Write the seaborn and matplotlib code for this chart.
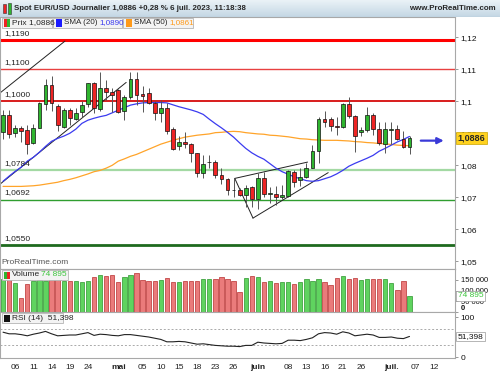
import numpy as np
import pandas as pd
import matplotlib
matplotlib.use("Agg")
import matplotlib.pyplot as plt
import matplotlib.transforms as mtransforms
from matplotlib.patches import Rectangle
import seaborn as sns

# ---- données (EUR/USD journalier) ----
opens = [1.0904, 1.0956, 1.0902, 1.0918, 1.0909, 1.0870, 1.0915, 1.0993, 1.1050, 1.0984,
         1.0920, 1.0974, 1.0946, 1.0967, 1.0991, 1.1056, 1.0977, 1.1043, 1.1030, 1.1035,
         1.0969, 1.1013, 1.1069, 1.1024, 1.1027, 1.0995, 1.0964, 1.0979, 1.0912, 1.0860,
         1.0874, 1.0865, 1.0837, 1.0775, 1.0809, 1.0811, 1.0770, 1.0756, 1.0723, 1.0723,
         1.0707, 1.0733, 1.0694, 1.0759, 1.0711, 1.0710, 1.0700, 1.0703, 1.0780, 1.0754,
         1.0763, 1.0791, 1.0845, 1.0944, 1.0944, 1.0923, 1.0920, 1.0993, 1.0954, 1.0905,
         1.0910, 1.0957, 1.0912, 1.0868, 1.0911, 1.0912, 1.0882, 1.0856]
highs = [1.0972, 1.0972, 1.0925, 1.0922, 1.0925, 1.0930, 1.0998, 1.1071, 1.1079, 1.0993,
         1.0979, 1.0979, 1.0979, 1.1001, 1.1058, 1.1061, 1.1092, 1.1065, 1.1041, 1.1038,
         1.1019, 1.1092, 1.1092, 1.1048, 1.1041, 1.1000, 1.1005, 1.0995, 1.0920, 1.0891,
         1.0904, 1.0869, 1.0839, 1.0832, 1.0832, 1.0818, 1.0791, 1.0759, 1.0759, 1.0730,
         1.0738, 1.0735, 1.0775, 1.0780, 1.0733, 1.0735, 1.0738, 1.0785, 1.0785, 1.0791,
         1.0806, 1.0863, 1.0952, 1.0971, 1.0950, 1.0950, 1.0995, 1.1012, 1.0957, 1.0920,
         1.0983, 1.0962, 1.0936, 1.0936, 1.0936, 1.0926, 1.0908, 1.0892]
lows = [1.0881, 1.0884, 1.0887, 1.0873, 1.0834, 1.0867, 1.0915, 1.0972, 1.0970, 1.0906,
        1.0917, 1.0925, 1.0941, 1.0951, 1.0982, 1.0964, 1.0970, 1.1003, 1.0966, 1.0962,
        1.0941, 1.1006, 1.0988, 1.0966, 1.0991, 1.0940, 1.0936, 1.0899, 1.0848, 1.0848,
        1.0854, 1.0811, 1.0762, 1.0759, 1.0791, 1.0759, 1.0742, 1.0707, 1.0702, 1.0704,
        1.0671, 1.0671, 1.0663, 1.0702, 1.0681, 1.0676, 1.0694, 1.0702, 1.0733, 1.0735,
        1.0759, 1.0791, 1.0806, 1.0920, 1.0907, 1.0895, 1.0915, 1.0947, 1.0843, 1.0892,
        1.0905, 1.0895, 1.0863, 1.0838, 1.0868, 1.0879, 1.0853, 1.0835]
closes = [1.0956, 1.0899, 1.0918, 1.0906, 1.0867, 1.0915, 1.0995, 1.1050, 1.0995, 1.0925,
          1.0974, 1.0948, 1.0964, 1.0988, 1.1056, 1.0978, 1.1042, 1.1030, 1.1020, 1.0967,
          1.1012, 1.1069, 1.1021, 1.1018, 1.0995, 1.0964, 1.0979, 1.0908, 1.0850, 1.0872,
          1.0867, 1.0837, 1.0775, 1.0803, 1.0811, 1.0770, 1.0756, 1.0723, 1.0722, 1.0707,
          1.0730, 1.0694, 1.0759, 1.0710, 1.0712, 1.0700, 1.0707, 1.0782, 1.0749, 1.0763,
          1.0793, 1.0846, 1.0944, 1.0936, 1.0924, 1.0919, 1.0991, 1.0955, 1.0892, 1.0910,
          1.0957, 1.0913, 1.0870, 1.0912, 1.0912, 1.0882, 1.0856, 1.0886]
volumes = [152, 152, 133, 64, 130, 143, 149, 146, 152, 152,
           146, 146, 146, 138, 146, 161, 171, 167, 172, 140,
           161, 172, 180, 149, 146, 146, 149, 157, 140, 138,
           144, 146, 146, 152, 153, 152, 161, 152, 146, 92,
           158, 169, 161, 140, 146, 133, 140, 138, 128, 140,
           152, 144, 152, 138, 125, 157, 167, 153, 157, 147,
           153, 153, 153, 152, 133, 102, 146, 74.895]
sma20 = [1.0750, 1.0766, 1.0781, 1.0794, 1.0813, 1.0825, 1.0841, 1.0859, 1.0875, 1.0884,
         1.0891, 1.0900, 1.0913, 1.0931, 1.0941, 1.0947, 1.0952, 1.0956, 1.0964, 1.0972,
         1.0980, 1.0988, 1.0992, 1.0995, 1.0996, 1.0996, 1.0996, 1.0995, 1.0989, 1.0983,
         1.0978, 1.0973, 1.0967, 1.0959, 1.0944, 1.0930, 1.0917, 1.0903, 1.0888, 1.0870,
         1.0853, 1.0839, 1.0828, 1.0819, 1.0805, 1.0791, 1.0780, 1.0772, 1.0764, 1.0758,
         1.0752, 1.0750, 1.0752, 1.0758, 1.0764, 1.0773, 1.0784, 1.0797, 1.0806, 1.0814,
         1.0822, 1.0831, 1.0844, 1.0853, 1.0863, 1.0873, 1.0881, 1.0890]
sma50 = [1.0734, 1.0734, 1.0734, 1.0734, 1.0735, 1.0736, 1.0738, 1.0741, 1.0744, 1.0747,
         1.0752, 1.0756, 1.0761, 1.0767, 1.0773, 1.0780, 1.0784, 1.0791, 1.0800, 1.0813,
         1.0820, 1.0828, 1.0834, 1.0842, 1.0850, 1.0858, 1.0866, 1.0872, 1.0878, 1.0883,
         1.0888, 1.0891, 1.0894, 1.0896, 1.0898, 1.0902, 1.0903, 1.0905, 1.0906, 1.0905,
         1.0902, 1.0900, 1.0898, 1.0897, 1.0894, 1.0893, 1.0891, 1.0889, 1.0886, 1.0883,
         1.0882, 1.0880, 1.0879, 1.0878, 1.0878, 1.0878, 1.0877, 1.0876, 1.0874, 1.0873,
         1.0871, 1.0870, 1.0868, 1.0867, 1.0865, 1.0863, 1.0862, 1.0861]
rsi14 = [62, 58, 58, 56, 53, 57, 60, 64, 58, 53,
         54, 55, 55, 58, 61, 54, 57, 56, 54, 53,
         56, 56, 54, 52, 50, 47, 44, 38, 38, 39,
         38, 35, 32, 33, 31, 29, 28, 27, 27, 26,
         29, 29, 37, 35, 34, 33, 34, 42, 42, 41,
         44, 48, 58, 61, 60, 57, 63, 60, 53, 55,
         57, 55, 49, 49, 50, 47, 46, 51.398]

dates = pd.bdate_range("2023-04-04", "2023-07-06")
axis_days = pd.bdate_range("2023-04-04", "2023-07-14")
tick_dates = ["2023-04-06", "2023-04-11", "2023-04-14", "2023-04-19", "2023-04-24",
              "2023-05-01", "2023-05-05", "2023-05-10", "2023-05-15", "2023-05-18",
              "2023-05-23", "2023-05-26", "2023-06-01", "2023-06-08", "2023-06-13",
              "2023-06-16", "2023-06-21", "2023-06-26", "2023-07-03", "2023-07-07",
              "2023-07-12"]
tick_labels = ["06", "11", "14", "19", "24", "mai", "05", "10", "15", "18", "23", "26",
               "juin", "08", "13", "16", "21", "26", "juil.", "07", "12"]

# niveaux horizontaux tracés sur le graphique
levels = [1.1190, 1.1100, 1.1000, 1.0784, 1.0692, 1.0550]
level_labels = ["1,1190", "1,1100", "1,1000", "1,0784", "1,0692", "1,0550"]
level_colors = ["#ff0000", "#e84040", "#d81c1c", "#a3d9a3", "#2f9e2f", "#1e6a1e"]
level_widths = [2.2, 1.0, 1.4, 1.6, 1.0, 2.0]

# lignes de tendance (indice de séance, prix)
trend_lines = [
    ([-0.5, 10.2], [1.1026, 1.1188]),
    ([-0.5, 20.3], [1.0741, 1.1059]),
    ([38.2, 50.2], [1.0759, 1.0810]),
    ([38.2, 41.2], [1.0759, 1.0635]),
    ([41.2, 53.6], [1.0635, 1.0777]),
]

price_ticks = [1.05, 1.06, 1.07, 1.08, 1.09, 1.10, 1.11, 1.12]
price_tick_labels = ["1,05", "1,06", "1,07", "1,08", "1,09", "1,1", "1,11", "1,12"]
vol_ticks = [0, 50000, 100000, 150000]
vol_tick_labels = ["0", "50 000", "100 000", "150 000"]

W, H = 500, 375


def fx(px):
    return px / W


def fy(py):
    return 1 - py / H


sns.set_style("white")
plt.rcParams["font.family"] = ["Liberation Sans Narrow", "Liberation Sans", "DejaVu Sans"]

fig = plt.figure(figsize=(5, 3.75), dpi=100)
fig.patch.set_facecolor("white")

x_right = 455
axp = fig.add_axes([0, fy(269), fx(x_right), (269 - 17) / H])
axv = fig.add_axes([0, fy(312), fx(x_right), (312 - 269) / H], sharex=axp)
axr = fig.add_axes([0, fy(358), fx(x_right), (358 - 312) / H], sharex=axp)

n = len(closes)
x = np.arange(n)
o = np.array(opens)
c = np.array(closes)
up = c >= o

# ---- prix ----
for lvl, col, lw, lab in zip(levels, level_colors, level_widths, level_labels):
    axp.axhline(lvl, color=col, lw=lw, zorder=1)
    axp.annotate(lab, (0, lvl), xycoords=("axes fraction", "data"),
                 xytext=(3, 2.5), textcoords="offset points", fontsize=6,
                 color="#222222", va="bottom", ha="left")

for tx, ty in trend_lines:
    axp.plot(tx, ty, color="#222222", lw=0.7, zorder=2)

sns.lineplot(x=x, y=sma50, color="#ffa42a", lw=0.9, ax=axp, zorder=2)
sns.lineplot(x=x, y=sma20, color="#3b3bf0", lw=0.9, ax=axp, zorder=2)

axp.vlines(x, lows, highs, color="#555555", lw=0.7, zorder=3)
body_bottom = np.minimum(o, c)
body_h = np.maximum(np.abs(c - o), 0.00003)
candle_cols = np.where(up, "#2fb52f", "#ee2424")
axp.bar(x, body_h, bottom=body_bottom, width=0.62, color=candle_cols,
        edgecolor="#111111", linewidth=0.5, zorder=4)

axp.annotate("", xy=(73.1, 1.0877), xytext=(68.4, 1.0877),
             arrowprops=dict(arrowstyle="-|>", color="#3a3ad8", lw=1.6, mutation_scale=9))

axp.set_ylim(1.04759, 1.12634)
axp.set_xlim(-0.5, 74.5)
axp.set_yticks(price_ticks)
axp.set_yticklabels(price_tick_labels)
for t in axp.get_yticklabels():
    if t.get_text() in ("1,1", "1,05"):
        t.set_fontweight("bold")

trans_p = mtransforms.blended_transform_factory(axp.transAxes, axp.transData)
axp.text(1.006, closes[-1], "1,0886", transform=trans_p, fontsize=6.5, fontweight="bold",
         va="center", ha="left", zorder=10,
         bbox=dict(boxstyle="square,pad=0.15", facecolor="#ffd21f", edgecolor="#c9a400", lw=0.5))
axp.text(0.004, 0.012, "ProRealTime.com", transform=axp.transAxes, fontsize=6,
         color="#555555", va="bottom", ha="left")

# ---- volume ----
vol = np.array(volumes) * 1000
axv.bar(x, vol, width=0.72, color=np.where(up, "#5fd35f", "#ea7b7b"),
        edgecolor=np.where(up, "#2c962c", "#b83030"), linewidth=0.5, zorder=3)
axv.set_ylim(0, 200000)
axv.set_yticks(vol_ticks)
axv.set_yticklabels(vol_tick_labels)
trans_v = mtransforms.blended_transform_factory(axv.transAxes, axv.transData)
axv.text(1.006, vol[-1], "74 895", transform=trans_v, fontsize=6, color="#3cc43c",
         va="center", ha="left", zorder=10,
         bbox=dict(boxstyle="square,pad=0.15", facecolor="white", edgecolor="#999999", lw=0.5))

# ---- RSI ----
axr.axhline(70, color="#aaaaaa", lw=0.7, ls=(0, (2, 2)))
axr.axhline(30, color="#aaaaaa", lw=0.7, ls=(0, (2, 2)))
sns.lineplot(x=x, y=rsi14, color="#222222", lw=0.8, ax=axr)
axr.set_ylim(-2.5, 112.5)
axr.set_yticks([0, 100])
axr.set_yticklabels(["0", "100"])
trans_r = mtransforms.blended_transform_factory(axr.transAxes, axr.transData)
axr.text(1.006, rsi14[-1], "51,398", transform=trans_r, fontsize=6, color="#111111",
         va="center", ha="left", zorder=10,
         bbox=dict(boxstyle="square,pad=0.15", facecolor="white", edgecolor="#999999", lw=0.5))

tick_pos = axis_days.get_indexer(pd.to_datetime(tick_dates))
axr.set_xticks(tick_pos)
axr.set_xticklabels(tick_labels)
for t in axr.get_xticklabels():
    if not t.get_text().isdigit():
        t.set_fontweight("bold")

for ax in (axp, axv, axr):
    ax.yaxis.tick_right()
    ax.tick_params(axis="y", labelsize=6, length=2, width=0.6, color="#888888",
                   pad=2, labelcolor="#111111", right=True, left=False)
    ax.tick_params(axis="x", labelsize=6, length=2, width=0.6, color="#888888",
                   pad=2, labelcolor="#222222")
    for s in ax.spines.values():
        s.set_color("#a8a8a8")
        s.set_linewidth(0.8)
    ax.set_xlabel("")
    ax.set_ylabel("")
    ax.grid(False)
    ax.set_facecolor("white")
for ax in (axp, axv):
    ax.tick_params(axis="x", bottom=False, labelbottom=False)

axv.tick_params(axis="y", labelsize=5.5)
vlabels = axv.get_yticklabels()
vlabels[0].set_va("bottom")
vlabels[0].set_fontweight("bold")

# ---- bandeau titre ----
hdr = fig.add_axes([0, fy(17), 1, 17 / H])
grad = np.linspace(0, 1, 32).reshape(-1, 1)
hdr.imshow(grad, aspect="auto", cmap=matplotlib.colors.LinearSegmentedColormap.from_list(
    "hdr", ["#eaf2f7", "#c4d7e4"]), extent=[0, 1, 0, 1])
hdr.set_axis_off()
hdr.axhline(0.02, color="#9aaab5", lw=0.8)
hdr.text(fx(14), 0.5, "Spot EUR/USD Journalier 1,0886 +0,28 % 6 juil. 2023, 11:18:38",
         transform=hdr.transAxes, fontsize=5.7, fontweight="bold", va="center", ha="left")
hdr.text(fx(496), 0.5, "www.ProRealTime.com", transform=hdr.transAxes, fontsize=5.7,
         fontweight="bold", va="center", ha="right")
# petite icône bougie
hdr.add_patch(Rectangle((fx(3), 0.25), fx(3), 0.5, facecolor="#ee2424", edgecolor="#333", lw=0.4))
hdr.add_patch(Rectangle((fx(7.5), 0.2), fx(3), 0.6, facecolor="#2fb52f", edgecolor="#333", lw=0.4))


# ---- cartouches de légende ----
def legend_box(x0, y0, w, h):
    fig.patches.append(Rectangle((fx(x0), fy(y0 + h)), w / W, h / H, transform=fig.transFigure,
                                 facecolor="#f3f3f3", edgecolor="#b5b5b5", lw=0.6, zorder=20))


def swatch(x0, y0, cols):
    k = len(cols)
    for i, col in enumerate(cols):
        fig.patches.append(Rectangle((fx(x0 + i * 6 / k), fy(y0 + 7)), 6 / k / W, 7 / H,
                                     transform=fig.transFigure, facecolor=col,
                                     edgecolor="none", zorder=21))


legend_box(2, 18, 50, 10)
swatch(4, 19.5, ["#ee2424", "#2fb52f"])
fig.text(fx(12), fy(23), "Prix 1,0886", fontsize=6, va="center", zorder=22)
legend_box(53, 18, 69, 10)
swatch(56, 19.5, ["#1a1aff"])
fig.text(fx(64), fy(23), "SMA (20)", fontsize=5.8, va="center", zorder=22)
fig.text(fx(99.5), fy(23), "1,0890", fontsize=5.8, va="center", color="#3b3bf0", zorder=22)
legend_box(123, 18, 70, 10)
swatch(126, 19.5, ["#ff9a1a"])
fig.text(fx(134), fy(23), "SMA (50)", fontsize=5.8, va="center", zorder=22)
fig.text(fx(169.5), fy(23), "1,0861", fontsize=5.8, va="center", color="#ff9a1a", zorder=22)

legend_box(2, 270, 66, 10)
swatch(4, 271.5, ["#2fb52f", "#ee2424"])
fig.text(fx(12), fy(275), "Volume", fontsize=6, va="center", zorder=22)
fig.text(fx(41), fy(275), "74 895", fontsize=6, va="center", color="#3cc43c", zorder=22)

legend_box(2, 313, 61, 10)
swatch(4, 314.5, ["#111111"])
fig.text(fx(12), fy(318), "RSI (14)  51,398", fontsize=6, va="center", zorder=22)

fig.savefig("out.png", dpi=100)
